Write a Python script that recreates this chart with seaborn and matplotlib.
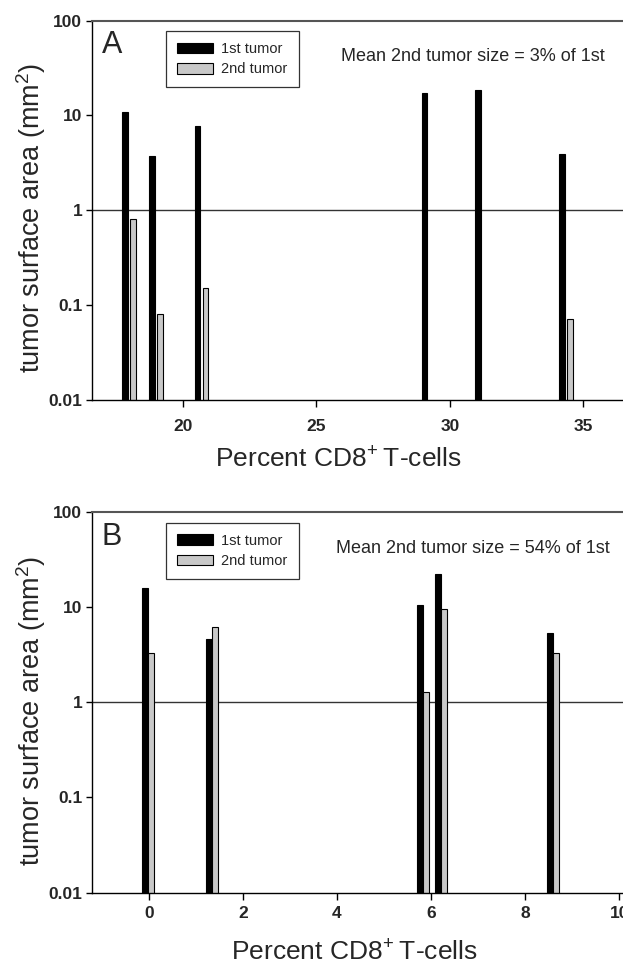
import numpy as np
import pandas as pd
import matplotlib
matplotlib.use("Agg")
import matplotlib.pyplot as plt
import seaborn as sns

### data

# panel A: group centres (percent CD8+ T-cells) and surface areas (mm2)
a_pos = [18.0, 19.0, 20.7, 29.2, 31.2, 34.35]
a_first = [10.8, 3.7, 7.7, 17.2, 18.4, 3.9]
a_second = [0.80, 0.08, 0.15, np.nan, np.nan, 0.07]

# panel B
b_pos = [-0.02, 1.35, 5.83, 6.22, 8.6]
b_first = [15.8, 4.6, 10.5, 22.2, 5.4]
b_second = [3.3, 6.2, 1.3, 9.5, 3.3]

tumor_labels = ["1st tumor", "2nd tumor"]
tumor_colors = ["#000000", "#c8c8c8"]

ytick_vals = [0.01, 0.1, 1, 10, 100]
ytick_labels = ["0.01", "0.1", "1", "10", "100"]
a_xticks = [20, 25, 30, 35]
b_xticks = [0, 2, 4, 6, 8, 10]

panel_letters = ["A", "B"]
notes = ["Mean 2nd tumor size = 3% of 1st", "Mean 2nd tumor size = 54% of 1st"]


def long_table(pos, first, second):
    df = pd.DataFrame({
        "x": list(pos) + list(pos),
        "tumor": [tumor_labels[0]] * len(pos) + [tumor_labels[1]] * len(pos),
        "area": list(first) + list(second),
    })
    return df.dropna()


sns.set_style("ticks")
plt.rcParams["font.family"] = ["Liberation Sans", "DejaVu Sans"]
plt.rcParams["mathtext.fontset"] = "custom"
plt.rcParams["mathtext.rm"] = "Liberation Sans"
plt.rcParams["mathtext.it"] = "Liberation Sans"
plt.rcParams["mathtext.bf"] = "Liberation Sans:bold"

fig = plt.figure(figsize=(6.23, 9.65), dpi=100)
axA = fig.add_axes([0.1477, 0.586, 0.883, 0.3925])
axB = fig.add_axes([0.1477, 0.0751, 0.883, 0.394])

panels = [
    (axA, long_table(a_pos, a_first, a_second), 0.6, 0.27, (16.6, 37.2), a_xticks, 0.447, 9),
    (axB, long_table(b_pos, b_first, b_second), 0.667, 0.0, (-1.21, 10.49), b_xticks, 0.477, 5),
]

for i, (ax, df, w, g, xlim, xt, xlab_x, xpad) in enumerate(panels):
    sns.barplot(data=df, x="x", y="area", hue="tumor", hue_order=tumor_labels,
                palette=tumor_colors, native_scale=True, log_scale=(False, True),
                width=w, gap=g, edgecolor="black", linewidth=0.8,
                errorbar=None, ax=ax)
    # bars start at zero: clip instead of mask on the log axis
    ax.set_yscale("log", nonpositive="clip")
    ax.set_xlim(*xlim)
    ax.set_ylim(0.01, 100)
    ax.axhline(1, color="#333333", lw=1.0, zorder=0.5)

    ax.set_yticks(ytick_vals)
    ax.set_yticklabels(ytick_labels)
    ax.yaxis.set_minor_locator(matplotlib.ticker.NullLocator())
    ax.set_xticks(xt)
    ax.set_xticklabels([str(t) for t in xt])
    ax.tick_params(axis="both", direction="out", length=5, width=1,
                   labelsize=12.5, color="black")
    ax.tick_params(axis="x", pad=xpad)
    ax.tick_params(axis="y", pad=3, length=4)
    for lab in ax.get_xticklabels() + ax.get_yticklabels():
        lab.set_fontweight("bold")

    for side in ["left", "bottom"]:
        ax.spines[side].set_color("black")
        ax.spines[side].set_linewidth(1.0)
    ax.spines["top"].set_visible(True)
    ax.spines["top"].set_color("#555555")
    ax.spines["top"].set_linewidth(1.5)

    ax.set_ylabel("tumor surface area (mm$^2$)", fontsize=19.5)
    ax.yaxis.set_label_coords(-0.08, 0.479)
    ax.set_xlabel("Percent CD8$^{+}$\u2009T-cells", fontsize=19)
    ax.xaxis.set_label_coords(xlab_x, -0.125)

    handles, labels = ax.get_legend_handles_labels()
    leg = ax.legend(handles, labels, loc="upper left", bbox_to_anchor=(0.1345, 0.973),
                    frameon=True, fancybox=False, edgecolor="black", fontsize=10.5,
                    handlelength=2.5, handleheight=0.72, handletextpad=0.55,
                    labelspacing=0.45, borderpad=0.75, borderaxespad=0)
    leg.get_frame().set_linewidth(0.9)

    ax.text(0.018, 0.975, panel_letters[i], transform=ax.transAxes,
            fontsize=22, ha="left", va="top")
    ax.text(0.692, 0.905, notes[i], transform=ax.transAxes,
            fontsize=13, ha="center", va="center")

fig.savefig("out.png", dpi=100)
